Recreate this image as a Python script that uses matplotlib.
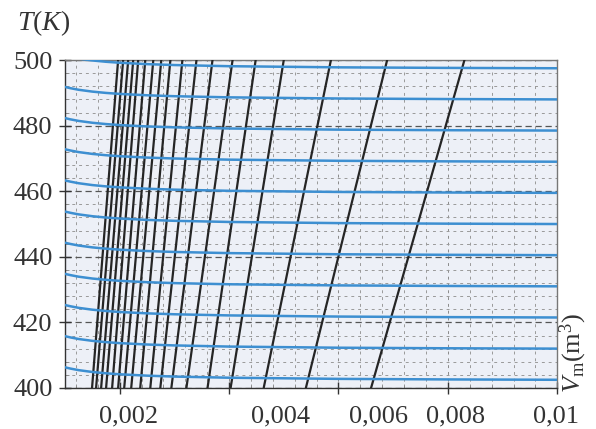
import matplotlib
matplotlib.use("Agg")
import numpy as np
import matplotlib.pyplot as plt
from matplotlib.ticker import MultipleLocator

# isobars: volume at T = 400 K and at T = 500 K
V_400 = [0.001495, 0.001569, 0.001661, 0.001752, 0.001862, 0.001972,
         0.002083, 0.002211, 0.002376, 0.002560, 0.002743, 0.002945,
         0.003220, 0.003606, 0.004028, 0.004633, 0.005404, 0.006596]
V_500 = [0.001972, 0.002064, 0.002156, 0.002248, 0.002339, 0.002468,
         0.002615, 0.002761, 0.002927, 0.003147, 0.003404, 0.003697,
         0.004064, 0.004486, 0.005000, 0.005862, 0.006890, 0.008303]

# blue curves: temperature at the right edge, plus a common rise to the left
T_end = [497.5, 488, 478.5, 469, 459.5, 450, 440.5, 431, 421.5, 412, 402.5]
V_shape = [0.001, 0.0011, 0.00125, 0.0015, 0.00175, 0.002, 0.0025,
           0.003, 0.004, 0.006, 0.008, 0.01]
T_rise = [3.8, 3.42, 2.94, 2.38, 1.98, 1.68, 1.26, 0.98, 0.63, 0.28, 0.11, 0.0]

x_tick_vals = [0.002, 0.004, 0.006, 0.008, 0.01]
x_tick_text = ["0,002", "0,004", "0,006", "0,008", "0,01"]
# where the book printed the labels (slightly off the ticks)
x_text_pos = [0.00216, 0.00494, 0.00674, 0.00814, 0.00997]

plt.rcParams["font.family"] = "serif"
plt.rcParams["font.serif"] = ["Liberation Serif", "DejaVu Serif"]
plt.rcParams["mathtext.fontset"] = "custom"
plt.rcParams["mathtext.rm"] = "Liberation Serif"
plt.rcParams["mathtext.it"] = "Liberation Serif:italic"

fig = plt.figure(figsize=(5.96, 4.29), dpi=100)
ax = fig.add_axes([0.109, 0.0956, 0.826, 0.7644])
ax.set_facecolor("#edf0f7")

ax.set_xlim(0.001, 0.01)
ax.set_ylim(400, 500)

ax.set_xticks(x_tick_vals)
ax.set_xticklabels([])
ax.xaxis.set_minor_locator(MultipleLocator(0.0004))
ax.yaxis.set_major_locator(MultipleLocator(20))
ax.yaxis.set_minor_locator(MultipleLocator(4))

# dark dashes only on the major temperature lines
ax.grid(which="major", axis="y", ls=(0, (5, 3)), color="#555555", lw=0.9)
ax.grid(which="major", axis="x", ls=(0, (3, 4)), color="#8a8a8a", lw=0.7)
ax.grid(which="minor", ls=(0, (3, 4)), color="#9a9a9a", lw=0.7)
ax.set_axisbelow(True)

ax.tick_params(which="major", direction="inout", length=8, width=1,
               color="#333333", labelsize=19, labelcolor="#333333", pad=5)
ax.tick_params(which="minor", direction="in", length=3, width=0.6,
               color="#888888")
ax.tick_params(axis="x", which="both", top=False)
ax.tick_params(axis="y", which="both", right=False)

for s in ["left", "bottom"]:
    ax.spines[s].set_color("#333333")
    ax.spines[s].set_linewidth(1.0)
for s in ["top", "right"]:
    ax.spines[s].set_color("#777777")
    ax.spines[s].set_linewidth(1.0)

# isobars
for v4, v5 in zip(V_400, V_500):
    ax.plot([v4, v5], [400, 500], color="#252525", lw=1.6, zorder=3)

# blue curves
for t in T_end:
    ax.plot(V_shape, np.array(T_rise) + t, color="#3d8fd1", lw=1.8, zorder=4)

for v, s in zip(x_text_pos, x_tick_text):
    ax.text(v, 394.8, s, ha="center", va="top", fontsize=19, color="#333333")

fig.text(0.073, 0.946, r"$T(K)$", ha="center", va="center",
         fontsize=20, color="#333333")
fig.text(0.962, 0.085, r"$V_{\rm m}(\rm m^3)$", ha="center", va="bottom",
         rotation=90, fontsize=19, color="#333333")

fig.savefig("out.png", dpi=100)
